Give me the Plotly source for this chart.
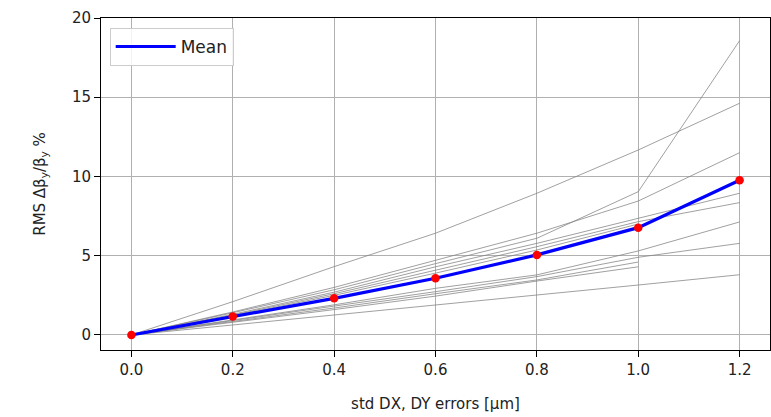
import plotly.graph_objects as go

x_vals = [0.0, 0.2, 0.4, 0.6, 0.8, 1.0, 1.2]

# Individual realisations (None = missing point)
run_a = [0, 2.10, 4.31, 6.42, 8.94, 11.67, 14.62]
run_b = [0, 1.40, 2.85, 4.50, 6.10, 9.04, 18.57]
run_c = [0, 1.45, 3.00, 4.70, 6.42, 8.45, 11.50]
run_d = [0, 1.30, 2.70, 4.30, 5.78, 7.36, 8.94]
run_e = [0, 1.25, 2.60, 4.10, 5.57, 7.15, 8.35]
run_f = [0, 1.20, 2.50, 3.90, 5.36, 7.00, None]
run_g = [0, 0.95, 1.90, 2.94, 3.79, 5.30, 7.13]
run_h = [0, 0.90, 1.80, 2.73, 3.68, 4.90, 5.78]
run_i = [0, 0.85, 1.70, 2.60, 3.47, 4.60, None]
run_j = [0, 0.80, 1.60, 2.45, 3.40, 4.30, None]
run_k = [0, 0.62, 1.25, 1.90, 2.52, 3.15, 3.80]
runs = [run_a, run_b, run_c, run_d, run_e, run_f, run_g, run_h, run_i, run_j, run_k]

mean_vals = [0.0, 1.16, 2.31, 3.58, 5.05, 6.77, 9.76]

y_ticks = [0, 5, 10, 15, 20]
x_ticks = [0.0, 0.2, 0.4, 0.6, 0.8, 1.0, 1.2]
x_tick_text = ["0.0", "0.2", "0.4", "0.6", "0.8", "1.0", "1.2"]

fig = go.Figure()
for r in runs:
    fig.add_trace(go.Scatter(x=x_vals, y=r, mode="lines",
                             line=dict(color="rgba(128,128,128,0.75)", width=1),
                             showlegend=False, hoverinfo="skip"))
fig.add_trace(go.Scatter(x=x_vals, y=mean_vals, mode="lines", name="Mean",
                         line=dict(color="blue", width=3.2)))
fig.add_trace(go.Scatter(x=x_vals, y=mean_vals, mode="markers", showlegend=False,
                         marker=dict(color="red", size=8.5)))

axis_common = dict(showline=True, linecolor="black", linewidth=1, mirror=True,
                   ticks="outside", ticklen=6, tickcolor="black",
                   showgrid=True, gridcolor="#b0b0b0", gridwidth=1, zeroline=False,
                   tickfont=dict(family="DejaVu Sans", size=15, color="#222"))

fig.update_layout(
    width=771, height=417,
    margin=dict(l=101, r=1, t=18, b=67),
    plot_bgcolor="white", paper_bgcolor="white",
    font=dict(family="DejaVu Sans", size=15, color="#222"),
    xaxis=dict(range=[-0.06, 1.26], tickvals=x_ticks, ticktext=x_tick_text,
               title=dict(text="std DX, DY errors [μm]", standoff=20,
                          font=dict(family="DejaVu Sans", size=15)),
               **axis_common),
    yaxis=dict(range=[-0.95, 20], tickvals=y_ticks,
               title=dict(text="RMS Δβ<sub>y</sub>/β<sub>y</sub> %", standoff=22,
                          font=dict(family="DejaVu Sans", size=15)),
               **axis_common),
    legend=dict(x=0.013, y=0.97, xanchor="left", yanchor="top",
                bgcolor="rgba(255,255,255,0.85)", bordercolor="#cccccc", borderwidth=1,
                itemwidth=60, tracegroupgap=0,
                font=dict(family="DejaVu Sans", size=17, color="#222")),
)

fig.write_html("out.html")
